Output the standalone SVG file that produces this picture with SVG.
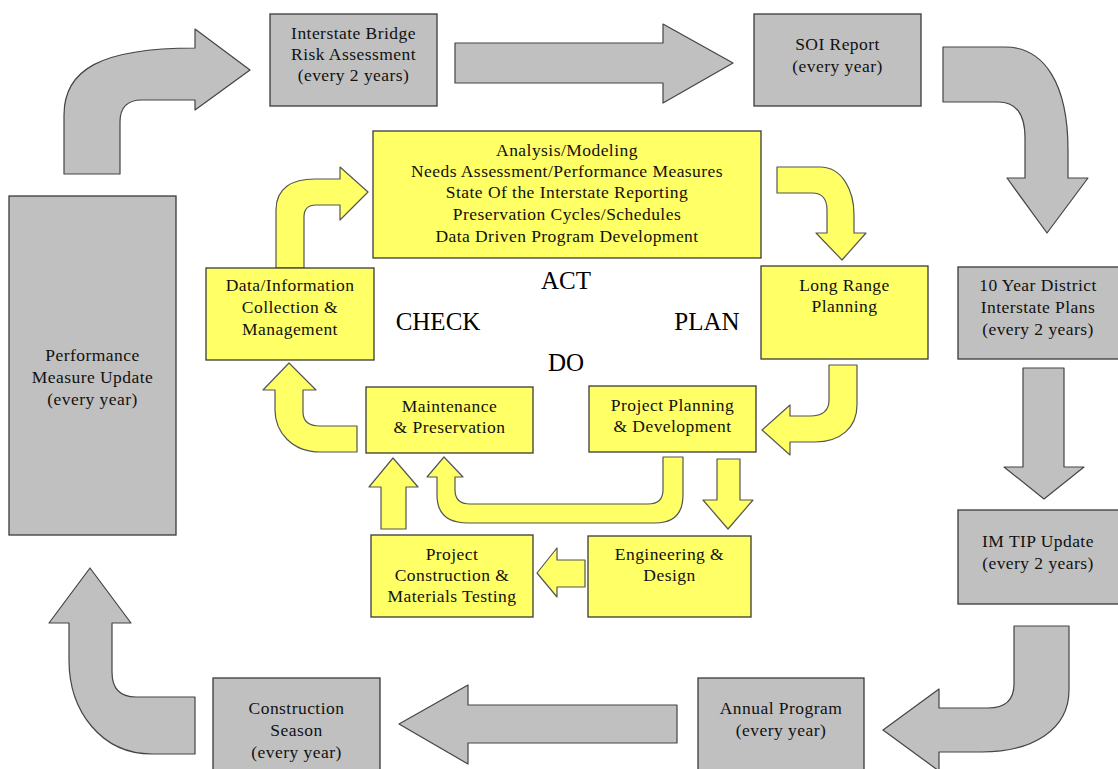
<svg xmlns="http://www.w3.org/2000/svg" width="1118" height="769" viewBox="0 0 1118 769">
<style>
.g{fill:#C0C0C0;stroke:#3a3a3a;stroke-width:1.3}
.y{fill:#FFFF66;stroke:#3a3a3a;stroke-width:1.3}
.ga{fill:#C0C0C0;stroke:#444;stroke-width:1.2;stroke-linejoin:round}
.ya{fill:#FFFF66;stroke:#555;stroke-width:1.2;stroke-linejoin:round}
text{font-family:"Liberation Serif","Times New Roman",serif;font-size:17.5px;letter-spacing:0.45px;fill:#111;text-anchor:middle}
.big{font-size:25px;letter-spacing:0;fill:#000}
</style>
<rect width="1118" height="769" fill="#fff"/>
<g id="connectors">
<path class="ga" d="M64,174 L64,115 C64,70 100,48 195,48 L195,29 L250,70 L195,110 L195,100 L142,100 Q120,100 120,122 L120,174 Z"/>
<path class="ga" d="M455,43 L663,43 L663,24 L733,63 L663,103 L663,83 L455,83 Z"/>
<path class="ga" d="M943,47 L1005,47 C1045,47 1068,85 1068,150 L1068,178 L1088,178 L1047,233 L1007,178 L1025,178 L1025,138 Q1025,102 998,102 L943,102 Z"/>
<path class="ga" d="M1023,368 L1064,368 L1064,467 L1084,467 L1044,499 L1004,467 L1023,467 Z"/>
<path class="ga" d="M1014,626 L1069,626 L1069,690 C1069,730 1032,752 982,752 L939,752 L939,771 L883,730 L939,689 L939,708 L988,708 Q1014,708 1014,684 Z"/>
<path class="ga" d="M677,705 L677,743 L468,743 L468,764 L399,724 L468,685 L468,705 Z"/>
<path class="ga" d="M195,697 L195,754 L152,754 C102,754 69,712 69,660 L69,623 L49,623 L90,568 L131,623 L112,623 L112,672 Q112,697 136,697 Z"/>
<path class="ya" d="M276,268 L276,210 C276,188 292,179 315,179 L340,179 L340,167 L368,192 L340,220 L340,205 L316,205 Q304,205 304,217 L304,268 Z"/>
<path class="ya" d="M777,167 L820,167 C842,167 854,190 854,215 L854,233 L866,233 L842,260 L816,233 L827,233 L827,210 Q827,193 812,193 L777,193 Z"/>
<path class="ya" d="M829,365 L857,365 L857,405 C857,428 840,442 815,442 L790,442 L790,455 L762,430 L790,405 L790,416 L810,416 Q829,416 829,400 Z"/>
<path class="ya" d="M683,457 L683,495 Q683,523 655,523 L468,523 Q437,523 437,495 L437,477 L427,477 L444,457 L463,477 L455,477 L455,490 Q455,504 470,504 L648,504 Q663,504 663,490 L663,457 Z"/>
<path class="ya" d="M717,459 L740,459 L740,500 L753,500 L728,529 L703,500 L717,500 Z"/>
<path class="ya" d="M585,560 L585,587 L557,587 L557,597 L537,573 L557,548 L557,560 Z"/>
<path class="ya" d="M381,529 L381,487 L369,487 L393,458 L418,487 L406,487 L406,529 Z"/>
<path class="ya" d="M357,426 L357,452 L320,452 C292,452 275,432 275,410 L275,390 L263,390 L289,363 L316,390 L303,390 L303,412 Q303,426 320,426 Z"/>
</g>
<g id="bridge"><rect class="g" x="270" y="14" width="167" height="92"/>
<text x="353.5" y="39">Interstate Bridge</text><text x="353.5" y="60">Risk Assessment</text><text x="353.5" y="81">(every 2 years)</text></g>
<g id="soi"><rect class="g" x="754" y="14" width="167" height="92"/>
<text x="837.5" y="50">SOI Report</text><text x="837.5" y="72">(every year)</text></g>
<g id="district"><rect class="g" x="958" y="267" width="162" height="92"/>
<text x="1038" y="291">10 Year District</text><text x="1038" y="313">Interstate Plans</text><text x="1038" y="335">(every 2 years)</text></g>
<g id="imtip"><rect class="g" x="958" y="510" width="162" height="94"/>
<text x="1038" y="547">IM TIP Update</text><text x="1038" y="569">(every 2 years)</text></g>
<g id="annual"><rect class="g" x="698" y="678" width="166" height="95"/>
<text x="781" y="714">Annual Program</text><text x="781" y="736">(every year)</text></g>
<g id="construction"><rect class="g" x="213" y="678" width="167" height="95"/>
<text x="296.5" y="714">Construction</text><text x="296.5" y="736">Season</text><text x="296.5" y="758">(every year)</text></g>
<g id="performance"><rect class="g" x="9" y="196" width="167" height="339"/>
<text x="92.5" y="361">Performance</text><text x="92.5" y="383">Measure Update</text><text x="92.5" y="405">(every year)</text></g>
<g id="analysis"><rect class="y" x="373" y="131" width="388" height="127"/>
<text x="567" y="156">Analysis/Modeling</text><text x="567" y="177">Needs Assessment/Performance Measures</text><text x="567" y="198">State Of the Interstate Reporting</text><text x="567" y="220">Preservation Cycles/Schedules</text><text x="567" y="242">Data Driven Program Development</text></g>
<g id="data"><rect class="y" x="206" y="268" width="168" height="92"/>
<text x="290" y="291">Data/Information</text><text x="290" y="313">Collection &amp;</text><text x="290" y="335">Management</text></g>
<g id="longrange"><rect class="y" x="761" y="266" width="167" height="93"/>
<text x="844.5" y="291">Long Range</text><text x="844.5" y="312">Planning</text></g>
<g id="maintenance"><rect class="y" x="366" y="387" width="167" height="66"/>
<text x="449.5" y="412">Maintenance</text><text x="449.5" y="433">&amp; Preservation</text></g>
<g id="projplanning"><rect class="y" x="589" y="386" width="167" height="66"/>
<text x="672.5" y="411">Project Planning</text><text x="672.5" y="432">&amp; Development</text></g>
<g id="projconstruction"><rect class="y" x="371" y="535" width="162" height="82"/>
<text x="452" y="560">Project</text><text x="452" y="581">Construction &amp;</text><text x="452" y="602">Materials Testing</text></g>
<g id="engineering"><rect class="y" x="588" y="536" width="163" height="81"/>
<text x="669.5" y="560">Engineering &amp;</text><text x="669.5" y="581">Design</text></g>
<g id="labels">
<text class="big" x="566" y="289">ACT</text>
<text class="big" x="438" y="330">CHECK</text>
<text class="big" x="707" y="330">PLAN</text>
<text class="big" x="566" y="371">DO</text>
</g>
</svg>
